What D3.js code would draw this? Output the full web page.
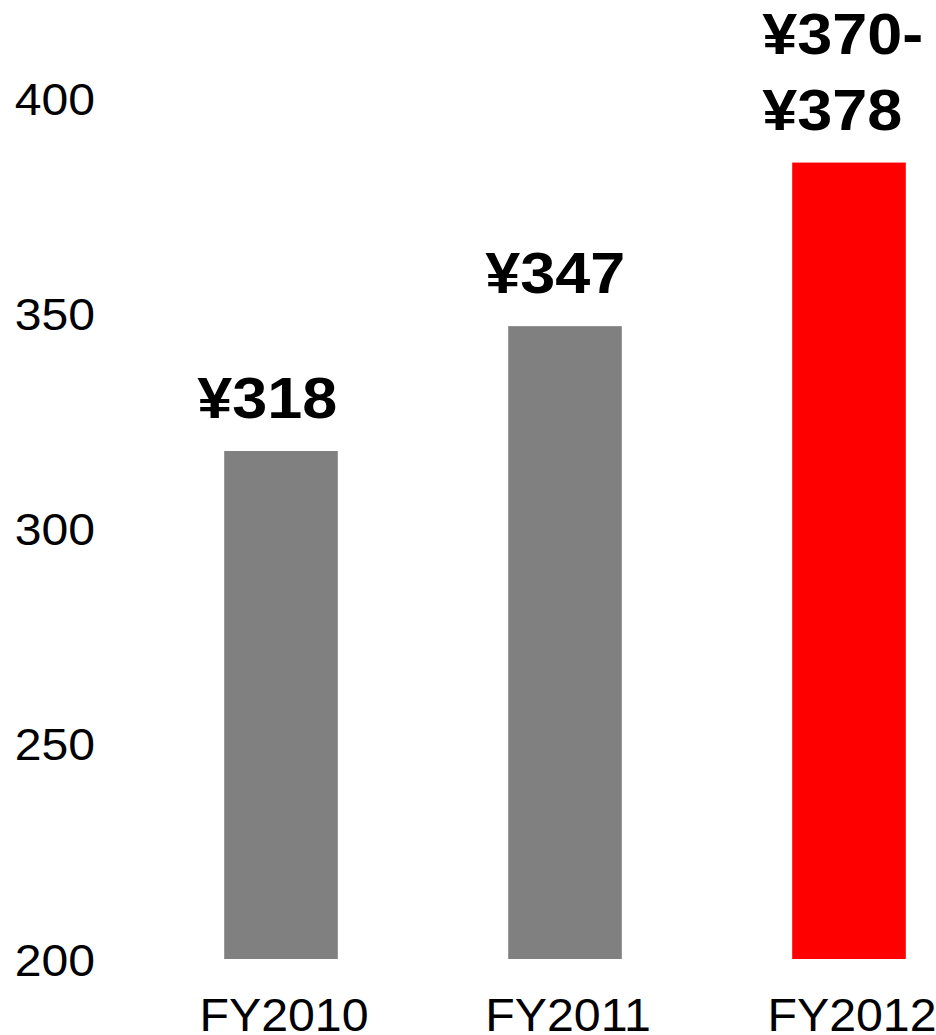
<!DOCTYPE html>
<html><head><meta charset="utf-8">
<script src="https://cdn.jsdelivr.net/npm/d3@7"></script>
<style>html,body{margin:0;padding:0;background:#fff}svg{display:block}</style>
</head><body>
<script>
const categories = ["FY2010", "FY2011", "FY2012"];
const barValues = [318, 347, 385];
const valueLabels = [["¥318"], ["¥347"], ["¥370-", "¥378"]];
const barColors = ["#808080", "#808080", "#ff0000"];
const yTicks = [200, 250, 300, 350, 400];

const W = 936, H = 1035;
const FONT = "'Liberation Sans', Arial, sans-serif";
const svg = d3.select("body").append("svg").attr("width", W).attr("height", H)
  .style("font-family", FONT);

const x = d3.scaleBand().domain(categories).range([139, 991]).paddingInner(0.6).paddingOuter(0.3);
const y = d3.scaleLinear().domain([200, 400]).range([959, 98]);

const yAxis = d3.axisLeft(y).tickValues(yTicks).tickSize(0).tickPadding(0);
const gy = svg.append("g").attr("transform", "translate(95,0)").call(yAxis);
gy.select(".domain").remove();
gy.selectAll("text").attr("font-size", 45).attr("fill", "#000")
  .attr("font-family", FONT).attr("dy", "0.36em")
  .attr("transform", "scale(1.07,1)");

const xAxis = d3.axisBottom(x).tickSize(0).tickPadding(0);
const gx = svg.append("g").attr("transform", "translate(0,1031)").call(xAxis);
gx.select(".domain").remove();
gx.selectAll("text").attr("font-size", 46).attr("fill", "#000")
  .attr("font-family", FONT).attr("dy", 0)
  .attr("transform", "translate(3,0) scale(1.05,1)");

svg.selectAll("rect.bar").data(categories).join("rect").attr("class", "bar")
  .attr("x", d => x(d)).attr("width", x.bandwidth())
  .attr("y", (d, i) => y(barValues[i])).attr("height", (d, i) => y(200) - y(barValues[i]))
  .attr("fill", (d, i) => barColors[i]);

const lh = 76;
const shiftX = [-27, -23, -30];
const lbl = svg.selectAll("g.val").data(categories).join("g").attr("class", "val")
  .attr("transform", (d, i) => `translate(${x(d) + shiftX[i]},${y(barValues[i]) - 33 - (valueLabels[i].length - 1) * lh}) scale(1.085,1)`);
lbl.append("text")
  .attr("font-size", 58).attr("font-weight", "bold").attr("fill", "#000")
  .selectAll("tspan").data((d, i) => valueLabels[i]).join("tspan")
  .attr("x", 0)
  .attr("dy", (d, j) => j === 0 ? 0 : lh)
  .text(d => d);
</script>
</body></html>
